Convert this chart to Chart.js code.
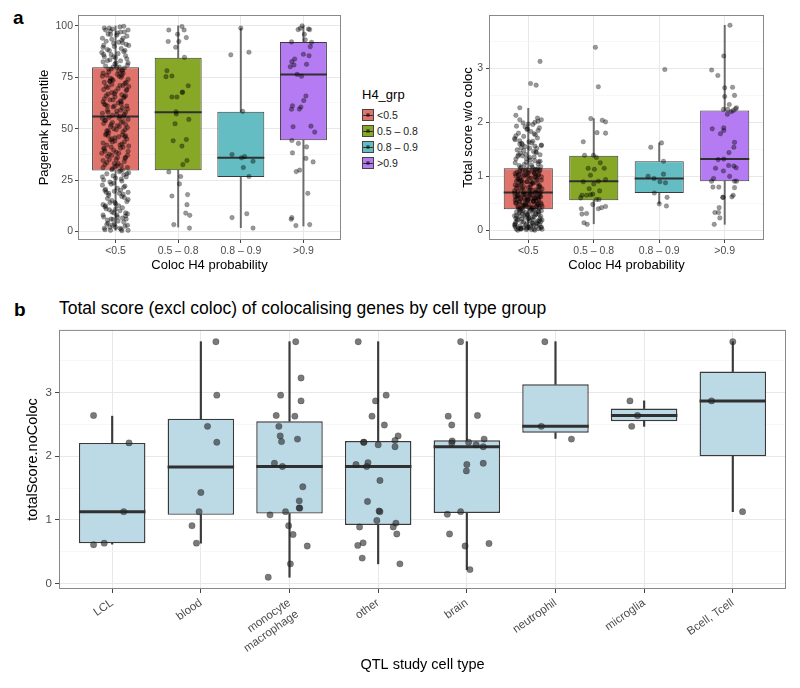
<!DOCTYPE html>
<html>
<head>
<meta charset="utf-8">
<script src="https://cdn.jsdelivr.net/npm/chart.js@4/dist/chart.umd.min.js"></script>
<style>
  body { margin: 0; background: #fff; font-family: "Liberation Sans", Arial, Helvetica, sans-serif; }
  #wrap { position: relative; width: 800px; height: 688px; overflow: hidden; }
  canvas { position: absolute; }
  .tag { position: absolute; font-weight: bold; font-size: 19px; line-height: 1; color: #000; }
  #ttl { position: absolute; left: 59px; top: 300px; font-size: 17.5px; line-height: 1; color: #000; white-space: nowrap; }
  #leg { position: absolute; left: 362px; top: 87px; color: #000; }
  #leg .head { font-size: 13px; line-height: 16px; margin-bottom: 4px; }
  #leg .row { position: relative; height: 16px; font-size: 10.5px; line-height: 16px; padding-left: 15px; color: #222; }
  #leg .key { position: absolute; left: 0; top: 2px; width: 10px; height: 10px; border: 1px solid #444; }
  #leg .key i { position: absolute; left: 0; right: 0; top: 4.5px; height: 1px; background: #333; }
  #leg .key b { position: absolute; left: 3px; top: 3px; width: 4px; height: 4px; border-radius: 50%; background: rgba(0,0,0,0.55); }
</style>
</head>
<body>
<div id="wrap">
  <div class="tag" style="left:13px;top:8px">a</div>
  <canvas id="chartA1" width="350" height="275" style="left:0;top:0"></canvas>
  <div id="leg"></div>
  <canvas id="chartA2" width="400" height="275" style="left:400px;top:0"></canvas>
  <div class="tag" style="left:14px;top:300px">b</div>
  <div id="ttl">Total score (excl coloc) of colocalising genes by cell type group</div>
  <canvas id="chartB" width="800" height="368" style="left:0;top:320px"></canvas>
</div>
<script>
// ---------- panel a (left): pagerank percentile by coloc H4 group ----------
const a1Cats = ['<0.5', '0.5 – 0.8', '0.8 – 0.9', '>0.9']
const a1Lo  = [0.5, 2.1, 1.8, 2.6]
const a1Q1  = [29.6, 29.8, 26.5, 44.4]
const a1Med = [55.9, 58.0, 35.8, 76.4]
const a1Q3  = [79.9, 84.5, 58.2, 92.2]
const a1Hi  = [100, 100, 98.9, 100]
// jittered points: [offset from group centre, value]
const a1PtsLow = [
  [-.18,99],[-.05,98.5],[.07,99.5],[.14,97],[-.12,96],[.2,98],[-.21,94],[.02,95.5],[.1,93],[-.08,97.5],
  [.17,91],[-.15,92.5],[-.02,90],[.12,94],[-.2,89.5],[.05,92],[-.1,88],[.21,90.5],[-.06,93.5],[.09,89],
  [-.19,86],[.13,87.5],[-.03,85],[.18,84],[-.13,88.5],[.04,86.5],[-.09,83.5],[.16,85.5],[-.22,87],[.08,83],
  [.01,82],[-.16,80.5],[.19,81],[-.07,79],[.11,78.5],[-.2,82.5],[.06,80],[-.11,77.5],[.14,79.5],[-.01,81.5],
  [-.14,76],[.09,75],[-.04,73.5],[.2,74],[-.18,72.5],[.03,76.5],[.15,72],[-.08,74.5],[.12,77],[-.21,75.5],
  [.07,71],[-.12,70],[.17,68.5],[-.02,67],[-.19,69],[.1,66.5],[-.06,71.5],[.21,70.5],[.0,68],[-.15,66],
  [.13,65],[-.09,64],[.04,62.5],[-.2,63],[.18,61],[-.04,60.5],[.08,63.5],[-.16,61.5],[.11,60],[-.01,65.5],
  [-.13,59],[.16,58],[-.05,56.5],[.06,55],[-.21,57.5],[.2,54.5],[-.1,55.5],[.02,58.5],[.14,57],[-.17,54],
  [.09,53],[-.07,52],[.19,50.5],[-.14,49],[.03,51.5],[-.19,52.5],[.12,48.5],[-.03,50],[.15,49.5],[-.11,48],
  [-.16,47],[.05,46],[-.08,44.5],[.18,45],[-.2,43],[.1,42.5],[-.01,45.5],[.14,43.5],[-.12,46.5],[.07,42],
  [.12,41],[-.18,40],[.01,38.5],[-.06,37],[.2,39],[-.13,36.5],[.08,40.5],[-.22,38],[.16,36],[-.03,39.5],
  [-.1,35],[.14,34],[-.17,32.5],[.04,33],[.19,31],[-.05,30.5],[.09,32],[-.2,34.5],[-.01,31.5],[.11,30],
  [.06,29],[-.14,28],[.17,26.5],[-.04,27],[-.19,25],[.1,24.5],[.0,26],[.21,28.5],[-.09,24],[.13,27.5],
  [-.07,23],[.15,22],[-.16,20.5],[.03,21],[.2,19],[-.11,18.5],[.08,20],[-.21,22.5],[.12,18],[-.02,19.5],
  [.1,17],[-.13,16],[.18,14.5],[-.06,15],[-.2,13],[.05,12.5],[-.09,14],[.14,16.5],[.0,13.5],[-.17,12],
  [-.15,11],[.07,10],[.19,8.5],[-.03,9],[-.19,7],[.11,6.5],[.02,8],[-.1,10.5],[.16,7.5],[-.07,6],
  [.04,5],[-.12,4],[.15,2.5],[-.05,3],[-.18,1.5],[.09,1],[.0,2],[-.08,0.5],[.2,0.5],[-.14,3.5],
  [.05,78],[-.09,73],[.16,66],[-.18,62],[.02,57],[-.05,53],[.11,47],[-.14,42],[.19,37],[-.02,33],
  [-.11,79],[.12,71],[-.04,64],[.08,59],[-.16,54],[.15,46],[-.07,41],[.03,36],[-.2,31],[.1,76],
  [.18,69],[-.13,61],[.06,51],[-.01,44],[-.17,39],[.13,56],[-.06,74],[.09,63],[-.12,49],[.01,35],
  [.13,99.8],[-.16,98],[.03,96.5],[-.1,99],[.18,95],[-.03,91.5],[.08,97],[-.19,90.5],[.15,88],[-.07,86],
  [.0,84.5],[-.13,83],[.2,82],[-.04,80],[.1,78],[-.2,77],[.06,75.5],[-.09,73],[.17,72.5],[-.15,70.5],
  [.04,69.5],[-.06,67.5],[.14,65.5],[-.18,64.5],[.09,62],[-.02,61],[.19,59.5],[-.12,58],[.07,56],[-.21,55],
  [.12,53.5],[-.08,51],[.01,49.5],[-.15,47.5],[.16,46.5],[-.05,43.5],[.21,41.5],[-.19,40.5],[.05,38],[-.1,37.5],
  [.15,35.5],[-.14,33.5],[.02,32],[-.06,30],[.18,28],[-.21,26.5],[.09,25.5],[-.03,23.5],[.13,21.5],[-.17,20],
  [.06,18.5],[-.11,17.5],[.2,15.5],[-.01,14],[-.16,12.5],[.11,11.5],[-.06,9.5],[.16,9],[-.2,8],[.03,7],
  [-.13,5.5],[.13,4.5],[-.02,3.5],[.19,3],[-.09,2],[.07,1.5],[-.17,0.8],[.1,0.3],[-.04,5.8],[.17,6],
  [-.08,95.8],[.11,91.8],[-.18,85],[.02,79.8],[-.12,66.8],[.16,52],[-.06,45],[.08,29.5],[-.15,19],[.0,10.8]
]
const a1PtsMid = [
  [-.15,98],[.095,98],[.06,99.7],[-.01,95.9],[.13,94.3],[-.16,92.4],[.01,92.4],[-.04,89.6],[.10,84.7],
  [-.18,78.2],[-.10,75.6],[-.195,75.3],[.16,70.9],[.065,67.6],[.07,67.8],[-.10,65.4],[-.02,65.4],
  [-.035,58.2],[-.03,57.1],[-.05,52.4],[.17,54.5],[-.08,44.1],[.13,44.7],[.06,41.5],[.14,34.5],
  [.075,32.5],[-.15,28.9],[.04,26.7],[.02,23.1],[-.10,17.2],[.15,17.9],[.14,13.0],[.12,8.9],
  [.185,7.8],[-.07,3.3],[.18,1.6]
]
const a1PtsHigh = [
  [0,98.9],[-.16,85.9],[.13,87.2],[.03,58.4],[-.14,37.4],[.01,35.8],[.06,36.4],[.195,34.1],
  [.04,31.1],[.13,26.7],[-.14,6.7],[.095,8.6],[.195,1.6]
]
const a1PtsTop = [
  [-.02,100],[-.085,98.2],[-.05,98.8],[.08,98.5],[.10,98.2],[.015,95.9],[.03,93.2],[.13,92],[-.19,92.2],
  [.11,89.9],[0,86.2],[.09,85.5],[-.14,83.9],[-.185,82.6],[.05,81.3],[-.21,80.1],[-.15,81],[-.10,76.4],
  [-.03,75.5],[.04,65.9],[.005,63.7],[-.175,61.1],[-.04,60.5],[-.065,59.5],[-.19,59.4],[-.165,50.9],
  [.12,51.2],[.18,48.3],[-.185,44.2],[-.08,42.8],[.05,41.1],[-.175,38.2],[.04,35.5],[.155,33.8],
  [-.115,29.1],[-.06,29.8],[.07,18.5],[-.185,6.7],[-.195,5.9],[-.12,2.8],[.10,3.3]
]
const a1Pts = [a1PtsLow, a1PtsMid, a1PtsHigh, a1PtsTop]
const a1Ticks = [0, 25, 50, 75, 100]

// ---------- panel a (right): total score without coloc ----------
const a2Cats = ['<0.5', '0.5 – 0.8', '0.8 – 0.9', '>0.9']
const a2Lo  = [0.0, 0.12, 0.49, 0.11]
const a2Q1  = [0.39, 0.555, 0.69, 0.91]
const a2Med = [0.70, 0.907, 0.96, 1.32]
const a2Q3  = [1.148, 1.38, 1.28, 2.22]
const a2Hi  = [2.26, 2.07, 1.62, 3.80]
const a2PtsLow = [
  [-.18,0.02],[.05,0.01],[.16,0.03],[-.07,0.05],[.1,0.0],[-.13,0.08],[.2,0.06],[-.02,0.04],[.08,0.1],[-.2,0.12],
  [.13,0.14],[-.1,0.16],[.02,0.18],[-.16,0.2],[.18,0.22],[-.05,0.24],[.07,0.13],[-.21,0.27],[.11,0.29],[-.01,0.3],
  [-.14,0.32],[.15,0.34],[-.08,0.36],[.04,0.37],[.19,0.26],[-.19,0.15],[.0,0.21],[.12,0.07],[-.11,0.02],[.06,0.33],
  [.17,0.11],[-.04,0.09],[-.17,0.19],[.09,0.25],[-.12,0.35],[.14,0.17],[-.06,0.28],[.03,0.05],[.21,0.02],[-.15,0.04],
  [.01,0.23],[-.09,0.31],[.11,0.38],[-.2,0.06],[.16,0.3],[-.03,0.12],[.07,0.2],[-.13,0.26],[.19,0.16],[-.18,0.34],
  [.04,0.4],[-.15,0.42],[.13,0.44],[-.06,0.46],[.2,0.48],[-.19,0.5],[.08,0.52],[-.01,0.54],[.16,0.56],[-.11,0.58],
  [.1,0.6],[-.17,0.62],[.02,0.64],[-.08,0.66],[.18,0.68],[-.21,0.69],[.06,0.41],[-.03,0.45],[.14,0.49],[-.13,0.53],
  [.0,0.57],[.12,0.61],[-.16,0.65],[.07,0.43],[-.09,0.47],[.19,0.51],[-.04,0.55],[.15,0.59],[-.2,0.63],[.03,0.67],
  [-.12,0.39],[.17,0.41],[-.05,0.5],[.09,0.6],[-.18,0.58],[.11,0.7],[-.02,0.62],[.21,0.44],[-.14,0.52],[.05,0.66],
  [.13,0.46],[-.07,0.68],[.01,0.48],[-.2,0.56],[.16,0.64],[-.1,0.4],[.08,0.54],[-.16,0.44],[.04,0.58],[.19,0.62],
  [-.06,0.72],[.12,0.75],[-.18,0.78],[.03,0.8],[.17,0.83],[-.11,0.86],[.07,0.88],[-.02,0.9],[.2,0.93],[-.15,0.95],
  [.1,0.98],[-.08,1.0],[.15,1.02],[-.2,1.05],[.01,1.07],[-.13,1.1],[.18,1.12],[-.04,1.14],[.06,0.74],[-.17,0.82],
  [.14,0.87],[-.1,0.92],[.02,0.97],[-.19,1.01],[.09,1.06],[-.05,1.11],[.21,0.77],[-.14,0.84],[.05,0.89],[-.01,0.99],
  [.16,1.04],[-.09,1.09],[.11,1.13],[-.21,0.73],[.0,0.79],[-.16,0.94],[.13,0.96],[-.03,1.03],[.08,1.08],[-.12,1.15],
  [.19,0.71],[-.07,0.81],[.04,0.85],[-.18,0.91],[.12,1.0],[-.01,1.06],[.17,1.1],[-.11,0.76],[.07,1.14],[-.15,1.02],
  [.06,1.17],[-.14,1.2],[.15,1.23],[-.03,1.26],[.1,1.29],[-.19,1.32],[.02,1.35],[-.09,1.38],[.18,1.4],[-.12,1.43],
  [.08,1.46],[-.17,1.49],[.13,1.52],[-.05,1.55],[.2,1.58],[-.1,1.61],[.01,1.64],[-.2,1.68],[.14,1.71],[-.07,1.74],
  [.11,1.77],[-.15,1.8],[.04,1.83],[-.02,1.87],[.17,1.9],[-.18,1.93],[.07,1.96],[-.08,1.99],[.15,2.02],[-.13,2.05],
  [.19,1.18],[-.06,1.22],[.03,1.3],[-.16,1.37],[.12,1.45],[-.11,1.53],[.05,1.62],[-.21,1.7],[.09,1.79],[-.01,1.88],
  [.16,1.27],[-.04,1.41],[.1,1.56],[-.13,1.66],[.0,1.97],[-.19,2.13],[-.13,2.27],[.14,2.08],[.2,2.05],[-.09,1.59],
  [-.16,0.0],[.09,0.02],[-.03,0.01],[.19,0.05],[-.12,0.03],[.04,0.08],[-.21,0.1],[.14,0.12],[-.07,0.15],[.0,0.06],
  [.17,0.18],[-.1,0.21],[.06,0.24],[-.18,0.27],[.12,0.3],[-.04,0.33],[.2,0.36],[-.14,0.39],[.02,0.42],[-.08,0.45],
  [.15,0.48],[-.19,0.51],[.08,0.54],[-.01,0.57],[-.12,0.6],[.18,0.63],[-.05,0.66],[.11,0.69],[-.16,0.72],[.03,0.75],
  [-.09,0.78],[.16,0.81],[-.2,0.84],[.07,0.87],[-.02,0.9],[.13,0.93],[-.13,0.96],[.2,0.99],[-.06,1.02],[.1,1.05],
  [-.17,1.08],[.01,1.11],[.14,1.14],[-.11,1.17],[.05,1.21],[-.2,1.25],[.18,1.28],[-.03,1.33],[.09,1.36],[-.15,1.4],
  [.12,1.44],[-.07,1.48],[.02,1.52],[.2,1.57],[-.13,1.6],[.07,1.65],[-.19,1.75],[.15,1.85],[-.05,1.92],[.1,2.0],
  [-.11,0.04],[.06,0.14],[-.19,0.22],[.16,0.35],[-.04,0.47],[.12,0.55],[-.15,0.64],[.01,0.71],[.18,0.8],[-.09,0.89],
  [.05,0.97],[-.14,1.04],[.13,1.12],[-.01,0.28],[.21,0.19],[-.2,0.09],[.08,0.37],[-.06,0.59],[.15,0.74],[-.12,0.92],
  [.035,2.72],[.12,2.69],[.18,3.13]
]
const a2PtsMid = [
  [.025,3.39],[.07,2.66],[-.045,2.07],[.13,2.04],[.18,2.01],[.05,1.81],[.18,1.80],[-.16,1.64],
  [-.14,1.39],[-.005,1.39],[.04,1.35],[.10,1.25],[.16,1.15],[-.085,1.15],[-.16,0.90],[.07,0.91],
  [.18,0.94],[-.07,0.77],[-.015,0.67],[-.18,0.65],[-.11,0.65],[-.05,0.66],[.04,0.57],[.08,0.57],
  [-.015,0.48],[-.19,0.40],[-.11,0.31],[-.18,0.30],[.07,0.40],[.12,0.42],[.18,0.44],[-.15,0.14],
  [-.10,0.11],[-.2,0.60],[.09,0.73],[-.05,1.02],[.01,1.13],[0,0.86]
]
const a2PtsHigh = [
  [.085,2.98],[.035,1.62],[-.13,1.54],[.065,1.28],[-.17,1.0],[.065,1.04],[-.08,0.96],[.01,0.90],
  [.095,0.88],[-.075,0.69],[.12,0.61],[0,0.49],[.11,0.45]
]
const a2PtsTop = [
  [.08,3.80],[-.015,3.23],[-.2,2.97],[-.105,2.87],[0,2.64],[.12,2.65],[0,2.48],[.15,2.50],[.07,2.33],
  [-.02,2.24],[.045,2.24],[.04,2.15],[.10,2.20],[.13,2.22],[.165,2.25],[.18,2.27],[-.19,1.88],[-.015,1.90],
  [-.015,1.85],[-.065,1.79],[.14,1.54],[.15,1.63],[.065,1.44],[-.1,1.31],[-.015,1.32],[.14,1.19],
  [.175,1.16],[-.14,1.15],[-.02,1.10],[.06,1.20],[.075,1.00],[-.17,0.96],[-.2,0.91],[.15,0.91],[.18,0.91],
  [-.18,0.80],[-.09,0.80],[.15,0.79],[-.03,0.61],[-.025,0.61],[.11,0.62],[.13,0.65],[-.085,0.42],
  [-.095,0.33],[-.15,0.33],[-.075,0.23],[-.16,0.11]
]
const a2Pts = [a2PtsLow, a2PtsMid, a2PtsHigh, a2PtsTop]

// ---------- panel b: total score by QTL cell type ----------
const bCats = ['LCL', 'blood', ['monocyte', 'macrophage'], 'other', 'brain', 'neutrophil', 'microglia', 'Bcell, Tcell']
const bLo  = [0.62, 0.635, 0.10, 0.31, 0.22, 2.28, 2.47, 1.13]
const bQ1  = [0.635, 1.08, 1.10, 0.92, 1.11, 2.37, 2.55, 2.00]
const bMed = [1.13, 1.83, 1.84, 1.84, 2.15, 2.47, 2.64, 2.87]
const bQ3  = [2.21, 2.59, 2.55, 2.24, 2.25, 3.13, 2.75, 3.33]
const bHi  = [2.63, 3.80, 3.80, 3.80, 3.80, 3.80, 2.87, 3.80]
const bPts = [
  [[-.21,2.64],[.19,2.21],[.13,1.13],[-.21,0.61],[-.09,0.635]],
  [[.17,3.80],[.18,2.96],[.075,2.47],[.18,2.22],[0,1.43],[-.02,1.13],[-.10,0.91],[-.05,0.635]],
  [[.07,3.80],[.13,3.23],[-.10,2.96],[.13,2.87],[-.15,2.64],[.06,2.63],[-.12,2.47],[-.105,2.32],[-.09,2.23],
   [.09,2.27],[-.17,1.89],[-.08,1.84],[.15,1.52],[.11,1.30],[.11,1.19],[.115,1.185],[-.045,1.13],[-.22,1.08],
   [-.01,0.91],[.04,0.77],[.20,0.59],[.01,0.31],[-.24,0.10]],
  [[-.225,3.80],[.09,2.96],[-.03,2.87],[-.07,2.63],[.07,2.49],[.225,2.32],[.19,2.25],[-.165,2.22],[-.16,2.22],
   [0,2.18],[.19,2.15],[-.25,1.87],[-.115,1.90],[-.13,1.84],[.02,1.62],[-.12,1.29],[.01,1.14],[.02,1.13],
   [-.015,0.99],[-.21,0.89],[.17,0.89],[.20,0.95],[.21,0.78],[-.17,0.64],[-.23,0.60],[-.18,0.40],[.245,0.31]],
  [[-.07,3.80],[-.21,2.63],[.12,2.64],[-.17,2.49],[-.165,2.24],[-.17,2.21],[.02,2.22],[.105,2.18],[.195,2.27],
   [.185,2.15],[0,1.87],[-.005,1.77],[.185,1.89],[-.07,1.13],[-.22,1.09],[-.195,0.78],[-.02,0.59],[.25,0.63],[.035,0.22]],
  [[-.12,3.80],[-.16,2.47],[.18,2.27]],
  [[-.16,2.87],[-.075,2.64],[-.14,2.47]],
  [[0,3.80],[-.24,2.87],[.11,1.13]]
]

const groupFills = ['#E0736B', '#87A826', '#64BDC2', '#B57BF2']
const fam = '"Liberation Sans", Arial, Helvetica, sans-serif'

// ggplot-like panel border
const panelBorder = {
  id: 'panelBorder',
  afterDatasetsDraw(chart) {
    const a = chart.chartArea
    const c = chart.ctx
    c.save()
    c.strokeStyle = '#888'
    c.lineWidth = 1
    c.strokeRect(a.left + 0.5, a.top + 0.5, a.right - a.left - 1, a.bottom - a.top - 1)
    c.restore()
  }
}

function isMajor(v, majors) {
  return majors.some(m => Math.abs(m - v) < 1e-6)
}

function boxChart(id, cfg) {
  const n = cfg.cats.length
  const halfBox = chart => chart.scales.x.getPixelForValue(0.375) - chart.scales.x.getPixelForValue(0)
  const whisker = (from, to) => ({
    type: 'bar', order: 3, grouped: false,
    data: cfg.cats.map((c, i) => ({x: i, y: [from[i], to[i]]})),
    backgroundColor: cfg.whisker, barThickness: cfg.whiskerW
  })
  const datasets = [
    whisker(cfg.lo, cfg.q1),
    whisker(cfg.q3, cfg.hi),
    {
      type: 'bar', order: 2, grouped: false,
      data: cfg.cats.map((c, i) => ({x: i, y: [cfg.q1[i], cfg.q3[i]]})),
      backgroundColor: cfg.fills, borderColor: '#3a3a3a', borderWidth: cfg.edgeW,
      borderSkipped: false, categoryPercentage: 1, barPercentage: 0.75
    },
    {
      type: 'scatter', order: 1,
      data: cfg.cats.map((c, i) => ({x: i, y: cfg.med[i]})),
      pointStyle: 'line', pointBorderColor: '#303030', pointBorderWidth: cfg.medW,
      pointRadius: ctx => halfBox(ctx.chart), pointHoverRadius: 0
    },
    {
      type: 'scatter', order: 0,
      data: cfg.pts.flatMap((g, i) => g.map(p => ({x: i + p[0], y: p[1]}))),
      pointBackgroundColor: cfg.dot, pointBorderColor: cfg.dotEdge, pointBorderWidth: 0.6,
      pointRadius: cfg.dotR
    }
  ]
  return new Chart(document.getElementById(id), {
    type: 'bar',
    data: {datasets: datasets},
    plugins: [panelBorder],
    options: {
      responsive: false,
      animation: false,
      events: [],
      layout: {padding: cfg.pad},
      plugins: {legend: {display: false}, tooltip: {enabled: false}},
      scales: {
        x: {
          type: 'linear', min: -0.6, max: n - 0.4, offset: false,
          border: {display: false},
          grid: {offset: false, color: '#e8e8e8', lineWidth: 1, tickLength: cfg.tickLen, tickColor: '#444'},
          ticks: {
            stepSize: 1, includeBounds: false, autoSkip: false,
            minRotation: cfg.rot, maxRotation: cfg.rot,
            padding: cfg.xPad, color: '#4d4d4d',
            font: {family: fam, size: cfg.tickSize},
            callback: v => cfg.cats[v]
          },
          title: {display: true, text: cfg.xTitle, color: '#000',
                  font: {family: fam, size: cfg.titleSize}, padding: {top: 0, bottom: cfg.xTitlePad}},
          afterFit: s => { s.height = cfg.xH }
        },
        y: {
          min: cfg.yMin, max: cfg.yMax,
          border: {display: false},
          grid: {
            color: ctx => isMajor(ctx.tick.value, cfg.yMajor) ? '#e8e8e8' : '#f3f3f3',
            lineWidth: ctx => isMajor(ctx.tick.value, cfg.yMajor) ? 1 : 0.7,
            tickLength: cfg.tickLen,
            tickColor: ctx => isMajor(ctx.tick.value, cfg.yMajor) ? '#444' : 'rgba(0,0,0,0)'
          },
          ticks: {
            stepSize: cfg.yStep, includeBounds: false, padding: cfg.yPad, color: '#4d4d4d',
            font: {family: fam, size: cfg.tickSize},
            callback: v => isMajor(v, cfg.yMajor) ? String(v) : ''
          },
          title: {display: true, text: cfg.yTitle, color: '#000',
                  font: {family: fam, size: cfg.titleSize}, padding: {top: cfg.yTitlePad, bottom: 0}},
          afterFit: s => { s.width = cfg.yW }
        }
      }
    }
  })
}

boxChart('chartA1', {
  cats: a1Cats, lo: a1Lo, q1: a1Q1, med: a1Med, q3: a1Q3, hi: a1Hi, pts: a1Pts,
  fills: groupFills, whisker: '#6b6b6b', whiskerW: 1.3, edgeW: 1, medW: 2,
  dot: 'rgba(0,0,0,0.4)', dotEdge: 'rgba(0,0,0,0.28)', dotR: 2.3,
  yMin: -4.2, yMax: 105.3, yStep: 12.5, yMajor: a1Ticks,
  pad: {top: 15, right: 9, bottom: 0, left: 0}, yW: 78, xH: 35,
  tickLen: 3, xPad: 2, yPad: 2, rot: 0, tickSize: 10.5, titleSize: 13,
  xTitle: 'Coloc H4 probability', yTitle: 'Pagerank percentile', xTitlePad: 1.5, yTitlePad: 37
})

boxChart('chartA2', {
  cats: a2Cats, lo: a2Lo, q1: a2Q1, med: a2Med, q3: a2Q3, hi: a2Hi, pts: a2Pts,
  fills: groupFills, whisker: '#6b6b6b', whiskerW: 1.3, edgeW: 1, medW: 2,
  dot: 'rgba(0,0,0,0.4)', dotEdge: 'rgba(0,0,0,0.28)', dotR: 2.3,
  yMin: -0.18, yMax: 3.99, yStep: 0.5, yMajor: [0, 1, 2, 3],
  pad: {top: 15, right: 36, bottom: 0, left: 0}, yW: 89, xH: 35,
  tickLen: 3, xPad: 2, yPad: 3, rot: 0, tickSize: 10.5, titleSize: 13,
  xTitle: 'Coloc H4 probability', yTitle: 'Total score w/o coloc', xTitlePad: 1.5, yTitlePad: 61
})

boxChart('chartB', {
  cats: bCats, lo: bLo, q1: bQ1, med: bMed, q3: bQ3, hi: bHi, pts: bPts,
  fills: '#BCD9E6', whisker: '#3a3a3a', whiskerW: 1.5, edgeW: 1.4, medW: 3,
  dot: 'rgba(40,40,40,0.62)', dotEdge: 'rgba(0,0,0,0.3)', dotR: 3.2,
  yMin: -0.085, yMax: 3.985, yStep: 0.5, yMajor: [0, 1, 2, 3],
  pad: {top: 6, right: 14, bottom: 0, left: 0}, yW: 59, xH: 99,
  tickLen: 4, xPad: 3, yPad: 3, rot: 35, tickSize: 11.5, titleSize: 14.5,
  xTitle: 'QTL study cell type', yTitle: 'totalScore.noColoc', xTitlePad: 14, yTitlePad: 24
})

// legend for panel a
const leg = document.getElementById('leg')
leg.innerHTML = '<div class="head">H4_grp</div>' + a1Cats.map((c, i) =>
  '<div class="row"><span class="key" style="background:' + groupFills[i] + '"><i></i><b></b></span>' +
  c.replace('<', '&lt;').replace('>', '&gt;') + '</div>').join('')
</script>
</body>
</html>
